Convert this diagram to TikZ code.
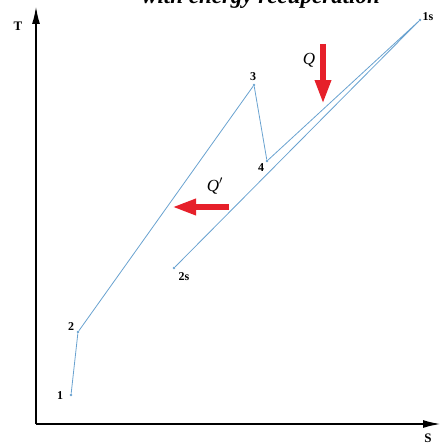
\documentclass[tikz,border=0pt]{standalone}
\usepackage{fontspec}
\setmainfont{Liberation Serif}
\usetikzlibrary{arrows.meta,calc}
\definecolor{cyc}{RGB}{105,162,208}
\definecolor{heat}{RGB}{230,32,42}
\tikzset{
  state/.style = {circle, fill=cyc, inner sep=0pt, minimum size=2.6pt},
  lbl/.style = {font=\bfseries\fontsize{12}{12}\selectfont, inner sep=0pt},
  axislbl/.style = {font=\bfseries\fontsize{13}{13}\selectfont},
  heatarrow/.style = {heat, line width=6.5pt, -{Triangle[length=24pt,width=15pt]}},
  qlbl/.style = {font=\itshape\fontsize{17}{17}\selectfont}
}

\begin{document}
\begin{tikzpicture}[x=1pt,y=-1pt]
  \useasboundingbox (0,0) rectangle (441,444);

  % title, cut by the top edge
  \node[anchor=base, font=\bfseries\itshape\fontsize{23}{23}\selectfont, inner sep=0pt] (title) at (261,4) {with energy recuperation};

  % axes
  \coordinate (O) at (36,424);
  \coordinate (Ttop) at (36,6);
  \coordinate (Send) at (441,424);
  \draw[line width=2pt, -{Latex[length=18pt,width=8pt]}] (O) -- (Ttop);
  \draw[line width=2pt, -{Latex[length=18pt,width=8pt]}] (O) -- (Send);
  \node[axislbl] (Tlbl) at (18,26) {T};
  \node[axislbl] (Slbl) at (428,438) {S};

  % states of the cycle
  \foreach \n/\x/\y in {1/71/395, 2/78/332, 3/254/85, 4/267/161, 1s/420/20, 2s/174/268}{
    \node[state] (p\n) at (\x,\y) {};
  }
  \draw[cyc, line width=0.8pt] (p1) -- (p2) -- (p3) -- (p4) -- (p1s) -- (p2s);

  \foreach \n/\dx/\dy in {1/-11/1, 2/-7/-5, 3/-1/-8, 4/-6/7, 1s/8/-3, 2s/10/9}{
    \node[lbl] (l\n) at ($(p\n)+(\dx,\dy)$) {\n};
  }

  % heat flows
  \coordinate (qa) at (323,44);
  \coordinate (qb) at (323,104);
  \coordinate (qpa) at (229,207);
  \coordinate (qpb) at (172,207);
  \draw[heatarrow] (qa) -- (qb);
  \draw[heatarrow] (qpa) -- (qpb);
  \node[qlbl] (qlb) at (309,60) {Q};
  \node[qlbl] (qplb) at (215,186) {Q$'$};

\end{tikzpicture}
\end{document}
